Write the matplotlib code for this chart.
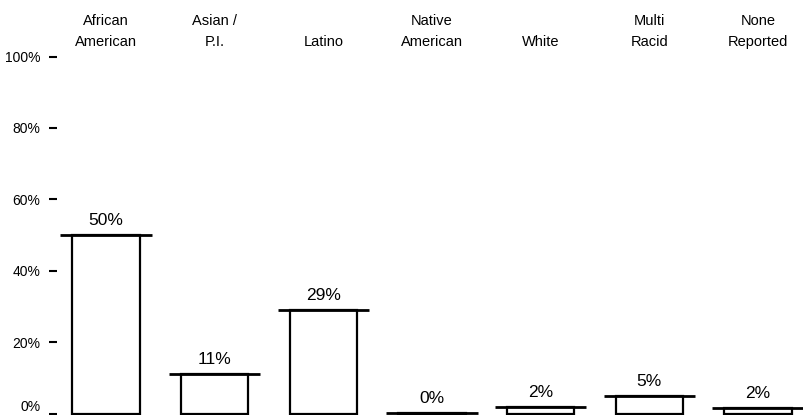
import numpy as np
import matplotlib
matplotlib.use("Agg")
import matplotlib.pyplot as plt
import matplotlib.transforms as mtransforms

# Data
header_top = ["African", "Asian /", "", "Native", "", "Multi", "None"]
header_bottom = ["American", "P.I.", "Latino", "American", "White", "Racid", "Reported"]
shares = [50, 11, 29, 0.2, 1.8, 5, 1.5]
ytick_values = [0, 20, 40, 60, 80, 100]
ytick_labels = ["0%", "20%", "40%", "60%", "80%", "100%"]

plt.rcParams["font.family"] = ["Liberation Sans", "DejaVu Sans"]

W, H = 804, 415
fig = plt.figure(figsize=(W / 100, H / 100), dpi=100)

# axes: left edge where the y tick marks sit, full height
left_px = 57
ax = fig.add_axes([left_px / W, 0, 1 - left_px / W, 1])

x = np.arange(len(shares))
px_per_cat = 108.67
first_center = 106
ax.set_xlim((left_px - first_center) / px_per_cat, (W - first_center) / px_per_cat)
zero_px = 413.5
px_per_pct = 3.57
ax.set_ylim(-(H - zero_px) / px_per_pct, zero_px / px_per_pct)

# boxes
ax.bar(x, shares, width=0.62, facecolor="white", edgecolor="black",
       linewidth=1.6, clip_on=False, zorder=2)
# wide caps on top of each box
ax.hlines(shares, x - 0.42, x + 0.42, colors="black", linewidth=2.0, zorder=3)

# value labels
for xi, v in zip(x, shares):
    ax.annotate(f"{v:.0f}%", (xi, v), xytext=(0, 5), textcoords="offset points",
                ha="center", va="bottom", fontsize=12.5)

# category headers at the top
trans = mtransforms.blended_transform_factory(ax.transData, fig.transFigure)
for xi, t1, t2 in zip(x, header_top, header_bottom):
    if t1:
        ax.text(xi, 1 - 25 / H, t1, transform=trans, ha="center", va="baseline",
                fontsize=10.5)
    ax.text(xi, 1 - 46 / H, t2, transform=trans, ha="center", va="baseline",
            fontsize=10.5)

ax.set_yticks(ytick_values)
ax.set_yticklabels(ytick_labels, fontsize=10)
ax.tick_params(axis="y", length=6, width=1.5, pad=6, direction="out")
# the bottom label sits a little higher so it stays inside the picture
lab0 = ax.get_yticklabels()[0]
lab0.set_transform(lab0.get_transform() + mtransforms.ScaledTranslation(0, 6 / 72, fig.dpi_scale_trans))
ax.set_xticks([])
for s in ax.spines.values():
    s.set_visible(False)
ax.patch.set_alpha(0)

fig.savefig("out.png", dpi=100, facecolor="white")
